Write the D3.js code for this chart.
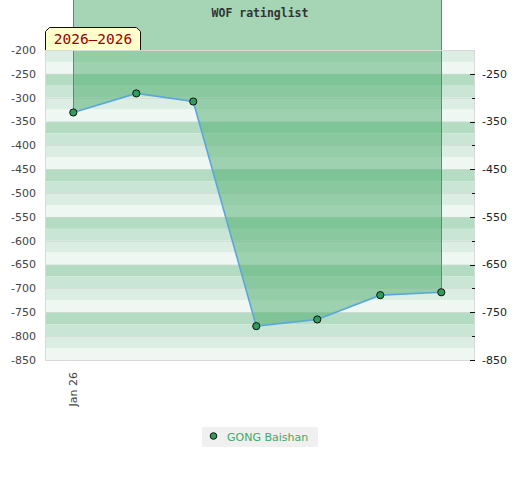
<!DOCTYPE html>
<html>
<head>
<meta charset="utf-8">
<script src="https://cdn.jsdelivr.net/npm/d3@7/dist/d3.min.js"></script>
<style>
  html, body { margin: 0; padding: 0; background: #fff; }
  svg { display: block; }
</style>
</head>
<body>
<svg id="chart" width="520" height="480"></svg>
<script>
// ---- data ----
const title = "WOF ratinglist";
const seriesName = "GONG Baishan";
const rangeLabel = "2026\u20132026";
const dates = ["2026-01-01", "2026-02-01", "2026-03-01", "2026-04-01", "2026-05-01", "2026-06-01", "2026-07-01"];
const values = [-331, -291, -308, -779, -765, -714, -708];
const xDomain = ["2025-12-18T02:00:00Z", "2026-07-17T14:00:00Z"];
const xTickDates = ["2026-01-01"];
const yDomain = [-850, -200];
const leftTicks = [-200, -250, -300, -350, -400, -450, -500, -550, -600, -650, -700, -750, -800, -850];
const rightMajorTicks = [-250, -350, -450, -550, -650, -750, -850];
const rightMinorTicks = [-300, -400, -500, -600, -700, -800];
const bandStep = 25;
const bandColors = ["#b3dcc3", "#c9e6d4", "#dceee3", "#eff7f2"]; // cycle starting at -250

// ---- layout ----
const svg = d3.select("#chart");
const margin = { top: 50, left: 45, right: 45, bottom: 120 };
const W = 520, H = 480;
const x = d3.scaleUtc().domain(xDomain.map(d => new Date(d))).range([margin.left, W - margin.right]);
const y = d3.scaleLinear().domain(yDomain).range([H - margin.bottom, margin.top]);

const data = dates.map((d, i) => ({ date: new Date(d + "T00:00:00Z"), value: values[i] }));

// bands
const bands = d3.range(yDomain[1], yDomain[0], -bandStep).map(top => ({ top, bottom: top - bandStep }));
svg.append("g").selectAll("rect").data(bands).join("rect")
  .attr("x", x.range()[0])
  .attr("width", x.range()[1] - x.range()[0])
  .attr("y", d => y(d.top))
  .attr("height", d => y(d.bottom) - y(d.top))
  .attr("fill", d => {
    const idx = ((Math.round((-250 - d.top) / bandStep) % 4) + 4) % 4;
    return bandColors[idx];
  });

// faint grid lines
svg.append("g").selectAll("line").data(leftTicks.slice(1, -1)).join("line")
  .attr("x1", x.range()[0]).attr("x2", x.range()[1])
  .attr("y1", d => Math.round(y(d)) + 0.5).attr("y2", d => Math.round(y(d)) + 0.5)
  .attr("stroke", "#cfd6d1").attr("stroke-width", 1).attr("opacity", 0.6);

// area from the line up to the svg top
const topY = y(yDomain[1]) - margin.top;
const area = d3.area().x(d => x(d.date)).y0(topY).y1(d => y(d.value));
svg.append("path").datum(data).attr("d", area)
  .attr("fill", "rgb(76,171,107)").attr("fill-opacity", 0.5);

// vertical edges of area
const first = data[0], last = data[data.length - 1];
[first, last].forEach(d => {
  svg.append("line")
    .attr("x1", Math.round(x(d.date)) + 0.5).attr("x2", Math.round(x(d.date)) + 0.5)
    .attr("y1", topY).attr("y2", y(d.value))
    .attr("stroke", "#3f9f60").attr("stroke-width", 1);
});

// plot border
svg.append("rect")
  .attr("x", x.range()[0] + 0.5).attr("y", y.range()[1] + 0.5)
  .attr("width", x.range()[1] - x.range()[0] - 1).attr("height", y.range()[0] - y.range()[1])
  .attr("fill", "none").attr("stroke", "#d9d9d9").attr("stroke-width", 1);

// line
const line = d3.line().x(d => x(d.date)).y(d => y(d.value));
svg.append("path").datum(data).attr("d", line)
  .attr("fill", "none").attr("stroke", "#5ba6dd").attr("stroke-width", 1.6);

// points
svg.append("g").selectAll("circle").data(data).join("circle")
  .attr("cx", d => x(d.date)).attr("cy", d => y(d.value)).attr("r", 3.6)
  .attr("fill", "#2f9e5a").attr("stroke", "#111").attr("stroke-width", 1);

// left axis labels
svg.append("g").selectAll("text").data(leftTicks).join("text")
  .attr("x", x.range()[0] - 9).attr("y", d => y(d)).attr("dy", "0.35em")
  .attr("text-anchor", "end")
  .attr("font-family", "DejaVu Sans, sans-serif").attr("font-size", 11)
  .attr("fill", "#444").text(d => d);

// right axis
const xr = x.range()[1];
svg.append("g").selectAll("line").data(rightMajorTicks).join("line")
  .attr("x1", xr - 5).attr("x2", xr)
  .attr("y1", d => Math.round(y(d)) + 0.5).attr("y2", d => Math.round(y(d)) + 0.5)
  .attr("stroke", "#111");
svg.append("g").selectAll("line").data(rightMinorTicks).join("line")
  .attr("x1", xr - 3).attr("x2", xr)
  .attr("y1", d => Math.round(y(d)) + 0.5).attr("y2", d => Math.round(y(d)) + 0.5)
  .attr("stroke", "#111");
svg.append("g").selectAll("text").data(rightMajorTicks).join("text")
  .attr("x", xr + 7).attr("y", d => y(d)).attr("dy", "0.35em")
  .attr("text-anchor", "start")
  .attr("font-family", "DejaVu Sans, sans-serif").attr("font-size", 11)
  .attr("fill", "#222").text(d => d);

// x axis labels (rotated)
const fmt = d3.utcFormat("%b %y");
svg.append("g").selectAll("text").data(xTickDates.map(d => new Date(d + "T00:00:00Z"))).join("text")
  .attr("transform", d => `translate(${x(d) + 4},${y.range()[0] + 12}) rotate(-90)`)
  .attr("text-anchor", "end")
  .attr("font-family", "DejaVu Sans, sans-serif").attr("font-size", 11)
  .attr("fill", "#444").text(fmt);

// title
svg.append("text")
  .attr("x", (x.range()[0] + x.range()[1]) / 2).attr("y", 17)
  .attr("text-anchor", "middle")
  .attr("font-family", "DejaVu Sans Mono, monospace").attr("font-weight", "bold")
  .attr("font-size", 11.5).attr("fill", "#333").text(title);

// range label box
const bx = x.range()[0], by = 27, bw = 96, bh = 23, c = 4;
svg.append("path")
  .attr("d", `M${bx + 0.5},${by + bh} L${bx + 0.5},${by + c + 0.5} L${bx + c + 0.5},${by + 0.5} L${bx + bw - c - 0.5},${by + 0.5} L${bx + bw - 0.5},${by + c + 0.5} L${bx + bw - 0.5},${by + bh}`)
  .attr("fill", "#ffffcc").attr("stroke", "#111").attr("stroke-width", 1);
svg.append("text")
  .attr("x", bx + bw / 2).attr("y", by + 17)
  .attr("text-anchor", "middle")
  .attr("font-family", "DejaVu Sans Mono, monospace").attr("font-size", 14.5)
  .attr("fill", "#990000").text(rangeLabel);

// legend
const lg = svg.append("g").attr("transform", "translate(202,427)");
lg.append("rect").attr("width", 116).attr("height", 20).attr("fill", "#f0f0f0");
lg.append("circle").attr("cx", 11.5).attr("cy", 9).attr("r", 3.3)
  .attr("fill", "#2f9e5a").attr("stroke", "#111").attr("stroke-width", 1);
lg.append("text").attr("x", 25).attr("y", 13.5)
  .attr("font-family", "DejaVu Sans, sans-serif").attr("font-size", 11)
  .attr("fill", "#3aaa63").text(seriesName);
</script>
</body>
</html>
